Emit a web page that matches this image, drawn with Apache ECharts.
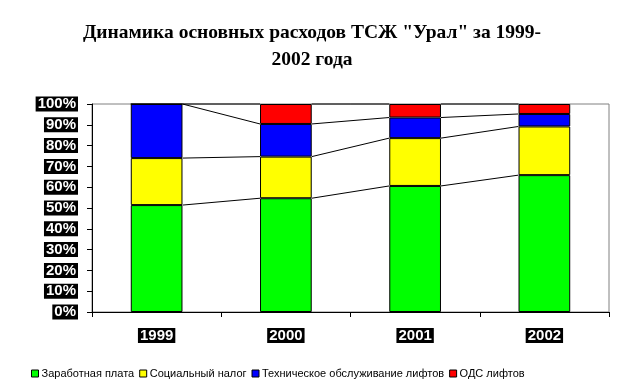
<!DOCTYPE html>
<html><head><meta charset="utf-8">
<script src="https://cdn.jsdelivr.net/npm/echarts@6/dist/echarts.min.js"></script>
<style>html,body{margin:0;padding:0;background:#fff}#c{width:624px;height:391px}</style>
</head><body><div id="c"></div>
<script>
const categories = ['1999', '2000', '2001', '2002'];
const salary = [51.4, 54.7, 60.6, 65.8];
const socialTax = [22.6, 20.0, 23.0, 23.4];
const liftService = [26.0, 15.7, 9.9, 6.0];
const liftOds = [0, 9.6, 6.5, 4.8];
const seriesNames = ['Заработная плата', 'Социальный налог', 'Техническое обслуживание лифтов', 'ОДС лифтов'];
const yTicks = [0, 10, 20, 30, 40, 50, 60, 70, 80, 90, 100];

const colors = ['#00FF00', '#FFFF00', '#0000FF', '#FF0000'];
const allSeries = [salary, socialTax, liftService, liftOds];
const barFrac = 0.4;

// cumulative levels for series lines
const cum = allSeries.map((s, k) => categories.map((c, i) => {
  let t = 0; for (let j = 0; j <= k; j++) t += allSeries[j][i]; return t;
}));
const lineData = [];
cum.forEach(level => {
  for (let i = 0; i < categories.length - 1; i++) lineData.push([i, level[i], level[i + 1]]);
});

const font = 'Liberation Sans, Arial, sans-serif';
const chart = echarts.init(document.getElementById('c'), null, {renderer: 'canvas'});
chart.setOption({
  animation: false,
  title: {
    text: 'Динамика основных расходов ТСЖ "Урал" за 1999-\n2002 года',
    left: 'center', top: 14,
    textStyle: {fontFamily: 'Liberation Serif, Times New Roman, serif', fontWeight: 'bold', fontSize: 19.5, lineHeight: 27, color: '#000', align: 'center'}
  },
  legend: {
    data: seriesNames, left: 26, top: 363, itemWidth: 7, itemHeight: 7, itemGap: 5,
    icon: 'rect',
    itemStyle: {borderColor: '#000', borderWidth: 1},
    textStyle: {fontFamily: font, fontSize: 11, color: '#000', padding: [0, 0, 0, -2]}
  },
  grid: {left: 92, right: 15, top: 104, bottom: 79, show: true, borderColor: '#808080', borderWidth: 1, backgroundColor: 'transparent'},
  xAxis: {
    type: 'category', data: categories,
    axisLine: {lineStyle: {color: '#000', width: 1}},
    axisTick: {show: true, inside: false, length: 5, lineStyle: {color: '#000'}},
    axisLabel: {fontFamily: font, fontSize: 15, fontWeight: 'bold', color: '#fff', backgroundColor: '#000', padding: [0, 2, 0, 2], lineHeight: 15, margin: 16}
  },
  yAxis: {
    type: 'value', min: yTicks[0], max: yTicks[yTicks.length - 1], interval: 10,
    splitLine: {show: false},
    axisLine: {show: true, lineStyle: {color: '#000', width: 1}},
    axisTick: {show: true, length: 5, lineStyle: {color: '#000'}},
    axisLabel: {formatter: '{value}%', fontFamily: font, fontSize: 15, fontWeight: 'bold', color: '#fff', backgroundColor: '#000', padding: [0, 2, 0, 2], lineHeight: 15, margin: 14}
  },
  series: allSeries.map((s, k) => ({
    name: seriesNames[k], type: 'bar', stack: 'total', data: s,
    barWidth: (barFrac * 100) + '%',
    itemStyle: {color: colors[k], borderColor: '#000', borderWidth: 1}
  })).concat([{
    type: 'custom', name: 'lines', data: lineData, z: 5, silent: true,
    encode: {x: 0, y: 1},
    renderItem: function (params, api) {
      const i = api.value(0);
      const p1 = api.coord([i, api.value(1)]);
      const p2 = api.coord([i + 1, api.value(2)]);
      const half = api.size([1, 0])[0] * barFrac / 2;
      return {type: 'line', shape: {x1: p1[0] + half, y1: p1[1], x2: p2[0] - half, y2: p2[1]}, style: {stroke: '#000', lineWidth: 1}};
    }
  }])
});
</script></body></html>
